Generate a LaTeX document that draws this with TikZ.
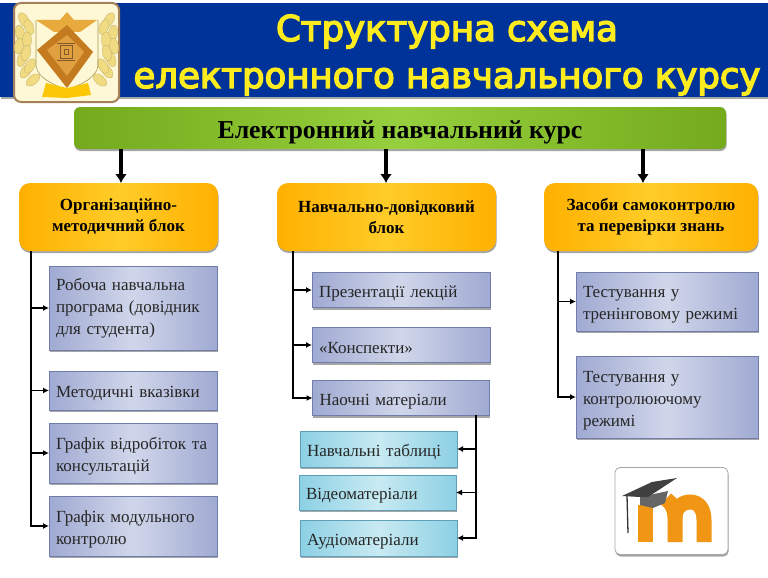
\documentclass[tikz,border=0pt]{standalone}
\usepackage{fontspec}
\setmainfont{Liberation Serif}
\newfontfamily\titlefont[FakeBold=4]{DejaVu Sans}
\usetikzlibrary{positioning,shadows,arrows.meta}
\definecolor{headblue}{RGB}{0,51,153}
\definecolor{titleyellow}{RGB}{255,236,30}
\definecolor{logocream}{RGB}{254,248,214}
\definecolor{leafgold}{RGB}{240,218,130}
\definecolor{starorange}{RGB}{232,170,60}
\definecolor{diamondout}{RGB}{196,122,30}
\definecolor{diamondin}{RGB}{224,160,64}
\definecolor{greenedge}{RGB}{116,170,28}
\definecolor{greenmid}{RGB}{150,208,62}
\definecolor{orangeedge}{RGB}{255,176,0}
\definecolor{orangemid}{RGB}{255,204,40}
\definecolor{itemedge}{RGB}{160,170,210}
\definecolor{itemmid}{RGB}{208,214,234}
\definecolor{itemline}{RGB}{112,124,170}
\definecolor{subedge}{RGB}{140,208,228}
\definecolor{submid}{RGB}{200,234,242}
\definecolor{subline}{RGB}{96,160,184}
\definecolor{moodleorange}{RGB}{240,150,20}
\newcommand{\fsize}[2]{\fontsize{#1pt}{#2pt}\selectfont}
\begin{document}
\begin{tikzpicture}[x=1pt,y=-1pt,
                    softshadow/.style={drop shadow={shadow xshift=.6pt, shadow yshift=-2pt, opacity=.35, fill=black}},
                    low/.style={execute at begin node={\leavevmode\rule{0pt}{#1}}},
                    low/.default=18pt,
                    course/.style={low=27pt, rounded corners=6pt, softshadow, left color=greenedge, right color=greenedge, middle color=greenmid, minimum width=652pt, minimum height=42pt, align=center, outer sep=0pt, font=\bfseries\fsize{25.8}{28}},
                    block/.style={low=19pt, rounded corners=11pt, softshadow, left color=orangeedge, right color=orangeedge, middle color=orangemid, minimum height=68pt, align=center, outer sep=0pt, font=\bfseries\fsize{17}{21}},
                    item/.style={draw=itemline, line width=.6pt, softshadow, left color=itemedge, right color=itemedge, middle color=itemmid, text width=154pt, inner xsep=7pt, inner ysep=0pt, align=left, outer sep=0pt, text=black!85, font=\fsize{17}{22}},
                    subitem/.style={low, draw=subline, line width=.6pt, softshadow, left color=subedge, right color=subedge, middle color=submid, minimum height=36pt, text width=143pt, inner xsep=7pt, inner ysep=0pt, align=left, outer sep=0pt, text=black!85, font=\fsize{17}{22}},
                    mainarrow/.style={-{Latex[length=9pt,width=12pt]}, line width=3.2pt},
                    branch/.style={-{Latex[length=6pt,width=6pt]}, line width=1.6pt},
                    leaf/.style={fill=leafgold, draw=leafgold!80!black, line width=.3pt},
                ]
                \useasboundingbox (0,0) rectangle (768,578);
                %Header
                \fill[headblue, softshadow] (0,3) rectangle (768,97);
                \node[text=titleyellow, font=\titlefont\fsize{35.5}{47}, align=center] (title) at (447,55) {Структурна схема\\електронного навчального курсу};
                %Logo
                \node[fill=logocream, draw=brown!60!gray, line width=2pt, rounded corners=7pt, minimum width=105pt, minimum height=99pt] (logo) at (66.5,52.5) {};
                \foreach \lx/\ly/\la in {24/20/30,20/33/10,19/46/-10,22/59/-20,26/71/-35,33/80/-50,29/27/20,27/40/0,26/53/-15,30/66/-30,109/20/-30,113/33/-10,114/46/10,111/59/20,107/71/35,100/80/50,104/27/-20,106/40/0,107/53/15,103/66/30}
                    \fill[leaf, rotate around={\la:(\lx,\ly)}] (\lx,\ly) ellipse (4.5pt and 8pt);
                \draw[leafgold!70!black, line width=.6pt] (36,20) -- (36,66) .. controls (38,78) and (52,84) .. (67,90) .. controls (82,84) and (96,78) .. (98,66) -- (98,20);
                \fill[starorange] (67,12) -- (74,20) -- (97,20) -- (80,32) -- (54,32) -- (36,20) -- (60,20) -- cycle;
                \fill[diamondout] (67,25) -- (93,52) -- (67,88) -- (37,50) -- cycle;
                \fill[diamondin] (67,35) -- (84,52) -- (67,76) -- (47,50) -- cycle;
                \draw[brown!70!black, line width=.9pt] (60,45) rectangle (72,58) (64,49) rectangle (68,54) (57,43) -- (75,43) (57,60) -- (75,60);
                \fill[yellow!60!orange] (42,97) -- (46,83) -- (67,88) -- (88,83) -- (91,95) -- (67,98) -- cycle;
                %Nodes
                \node[course] (crs) at (400,128) {Електронний навчальний курс};
                \node[block, minimum width=199pt] (org) at (118.5,217) {Організаційно-\\методичний блок};
                \node[block, minimum width=219pt] (ref) at (386.5,217) {Навчально-довідковий\\блок};
                \node[block, minimum width=214pt] (ctl) at (651,217) {Засоби самоконтролю\\та перевірки знань};

                \node[item, minimum height=84pt] (prog) at (133,308) {Робоча навчальна програма (довідник для студента)};
                \node[item, low, minimum height=39pt] (meth) [below=21pt of prog] {Методичні вказівки};
                \node[item, low, minimum height=60pt] (sched) [below=13pt of meth] {Графік відробіток та консультацій};
                \node[item, low, minimum height=60pt] (modc) [below=13pt of sched] {Графік модульного контролю};

                \node[item, low, minimum height=35pt, text width=164pt] (pres) at (401,290) {Презентації лекцій};
                \node[item, low, minimum height=35pt, text width=164pt] (conc) [below=20pt of pres] {«Конспекти»};
                \node[item, low, minimum height=35pt, text width=163pt] (vis) [below=18pt of conc] {Наочні матеріали};

                \node[subitem] (tabl) at (378.5,449) {Навчальні таблиці};
                \node[subitem, minimum height=35pt] (vid) at (377.5,492.5) {Відеоматеріали};
                \node[subitem] (aud) at (378.5,538) {Аудіоматеріали};

                \node[item, low, minimum height=59pt, text width=168pt] (tr) at (667,301.5) {Тестування у тренінговому режимі};
                \node[item, low, minimum height=82pt, text width=168pt] (ct) at (667,397) {Тестування у контролюючому режимі};

                %Moodle icon
                \node[fill=white, draw=gray!70, line width=.8pt, rounded corners=5pt, minimum width=113pt, minimum height=87pt, softshadow] (moodle) at (671.5,511) {};
                \draw[moodleorange, line width=15pt] (645,505) -- (645,542);
                \draw[moodleorange, line width=15pt] (666,499) .. controls (672,503) and (675,510) .. (675,518) -- (675,542);
                \draw[moodleorange, line width=15pt] (675,518) .. controls (675,506) and (684,502) .. (690,502) .. controls (698,502) and (704,508) .. (704,520) -- (704,542);
                \fill[black!60] (640,497) -- (668,491) -- (665,503) -- (653,508) -- (640,505) -- cycle;
                \fill[black!75] (622,496) -- (652,482) -- (677,478) -- (648,497) -- (640,497) -- cycle;
                \draw[black!80, line width=1.3pt] (627,496) -- (628,533);

                %Connectors
                \coordinate (ca) at (121,149);
                \coordinate (cb) at (386,149);
                \coordinate (cc) at (643,149);
                \draw[mainarrow] (ca) -- (ca |- org.north);
                \draw[mainarrow] (cb) -- (cb |- ref.north);
                \draw[mainarrow] (cc) -- (cc |- ctl.north);

                \coordinate (orgbus) at (31,251);
                \coordinate (refbus) at (293,251);
                \coordinate (ctlbus) at (558,251);
                \coordinate (visbus) at (476,415);
                \foreach \target in {prog,meth,sched,modc}
                    \draw[branch] (orgbus) |- (\target.west);
                \foreach \target in {pres,conc,vis}
                    \draw[branch] (refbus) |- (\target.west);
                \foreach \target in {tr,ct}
                    \draw[branch] (ctlbus) |- (\target.west);
                \foreach \target in {tabl,vid,aud}
                    \draw[branch] (visbus) |- (\target.east);
            \end{tikzpicture}
\end{document}
